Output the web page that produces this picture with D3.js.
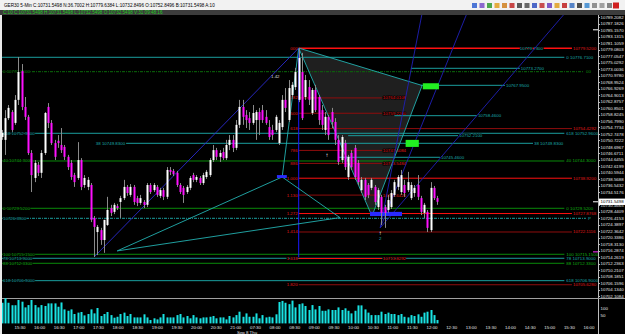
<!DOCTYPE html>
<html>
<head>
<meta charset="utf-8">
<script src="https://cdn.jsdelivr.net/npm/d3@7"></script>
<style>
  html, body { margin: 0; padding: 0; background: #000; }
  svg { display: block; font-family: "Liberation Sans", Arial, sans-serif; }
</style>
</head>
<body>
<script>
// GER30 5-Min, 133 bars (open / high / low / close)
const barOpen = [
  10751.8, 10750.9, 10757.7, 10759.6, 10756.2, 10763.4, 10772.4, 10761.2, 10758.1, 10746.8,
  10739.0, 10743.1, 10740.6, 10746.8, 10761.2, 10756.2, 10749.9, 10750.6, 10749.3, 10748.7,
  10745.6, 10743.7, 10739.9, 10739.0, 10744.6, 10736.8, 10736.2, 10736.8, 10726.5, 10722.1,
  10722.7, 10719.6, 10724.3, 10729.6, 10728.4, 10730.2, 10731.5, 10732.7, 10736.2, 10733.7,
  10736.2, 10732.7, 10731.2, 10731.5, 10730.6, 10736.8, 10735.2, 10736.2, 10733.4, 10735.2,
  10733.1, 10741.5, 10741.2, 10740.6, 10736.8, 10735.9, 10734.6, 10735.9, 10739.9, 10738.4,
  10739.0, 10737.4, 10739.3, 10739.9, 10744.6, 10747.7, 10745.6, 10747.1, 10745.2, 10749.3,
  10750.9, 10748.4, 10755.6, 10761.2, 10758.7, 10757.7, 10756.2, 10757.1, 10759.6, 10760.2,
  10758.1, 10754.9, 10754.0, 10754.0, 10749.9, 10754.9, 10763.4, 10757.1, 10764.9, 10767.4,
  10763.4, 10772.1, 10764.3, 10767.4, 10759.3, 10766.5, 10764.3, 10760.2, 10754.0, 10758.1,
  10759.6, 10756.5, 10750.9, 10744.6, 10749.9, 10739.3, 10746.8, 10748.4, 10743.7, 10735.2,
  10738.4, 10736.8, 10735.9, 10736.2, 10729.9, 10733.1, 10729.9, 10729.0, 10729.9, 10733.7,
  10736.2, 10734.6, 10736.8, 10735.2, 10732.7, 10734.3, 10736.8, 10732.7, 10728.1, 10728.4,
  10722.7, 10735.9, 10732.7
];
const barHigh = [
  10754.0, 10760.2, 10761.8, 10760.2, 10764.9, 10776.8, 10774.6, 10764.3, 10758.7, 10747.7,
  10744.6, 10744.0, 10747.7, 10759.6, 10762.4, 10757.1, 10750.9, 10752.4, 10754.6, 10749.3,
  10746.2, 10744.6, 10740.6, 10750.2, 10745.2, 10739.9, 10739.3, 10737.4, 10727.1, 10724.3,
  10723.4, 10725.9, 10733.1, 10730.6, 10731.2, 10730.9, 10733.4, 10738.4, 10736.8, 10737.1,
  10736.8, 10733.4, 10733.7, 10732.1, 10737.4, 10737.4, 10737.4, 10736.8, 10735.9, 10735.9,
  10742.4, 10742.4, 10741.8, 10741.2, 10737.4, 10736.5, 10736.8, 10739.6, 10740.6, 10739.9,
  10739.6, 10740.6, 10741.5, 10745.2, 10749.3, 10748.4, 10747.7, 10748.4, 10750.9, 10752.4,
  10752.4, 10757.1, 10763.4, 10763.4, 10760.2, 10759.6, 10761.8, 10760.2, 10760.9, 10761.8,
  10760.2, 10757.1, 10755.6, 10758.7, 10757.1, 10764.9, 10767.1, 10769.6, 10769.0, 10773.4,
  10779.6, 10778.1, 10771.2, 10769.6, 10767.1, 10768.1, 10764.9, 10761.8, 10759.6, 10758.7,
  10760.9, 10757.7, 10752.4, 10752.4, 10750.9, 10746.2, 10747.7, 10749.3, 10744.6, 10739.3,
  10739.0, 10737.4, 10739.0, 10736.8, 10735.9, 10733.7, 10730.6, 10733.7, 10735.2, 10738.4,
  10739.9, 10741.5, 10738.4, 10740.9, 10737.7, 10736.8, 10739.9, 10733.4, 10731.2, 10729.0,
  10737.7, 10736.5, 10733.4
];
const barLow = [
  10750.9, 10746.2, 10757.1, 10753.4, 10755.6, 10761.8, 10760.2, 10757.1, 10746.2, 10734.6,
  10737.7, 10739.6, 10739.0, 10746.2, 10754.6, 10749.3, 10744.6, 10748.4, 10746.8, 10744.6,
  10741.5, 10738.4, 10736.2, 10738.4, 10735.2, 10735.9, 10735.2, 10725.2, 10714.3, 10714.9,
  10718.1, 10715.6, 10724.0, 10727.1, 10727.7, 10729.0, 10726.5, 10732.1, 10733.4, 10733.1,
  10730.6, 10730.2, 10730.6, 10729.6, 10729.9, 10734.0, 10734.6, 10733.1, 10732.7, 10732.1,
  10732.4, 10739.9, 10739.6, 10736.2, 10734.0, 10731.2, 10734.0, 10735.2, 10737.7, 10737.7,
  10736.8, 10736.8, 10738.7, 10739.3, 10744.0, 10744.6, 10744.0, 10744.6, 10744.6, 10747.7,
  10747.1, 10747.7, 10754.6, 10755.6, 10754.6, 10754.0, 10755.6, 10750.9, 10752.4, 10756.2,
  10755.6, 10750.9, 10750.9, 10753.4, 10749.3, 10754.0, 10759.6, 10756.5, 10764.3, 10766.5,
  10762.7, 10757.1, 10763.4, 10761.8, 10758.7, 10759.6, 10755.6, 10754.0, 10752.4, 10750.9,
  10754.6, 10749.3, 10743.1, 10743.7, 10741.5, 10738.4, 10741.5, 10738.4, 10736.8, 10734.3,
  10732.1, 10732.7, 10735.2, 10730.6, 10729.0, 10724.3, 10723.4, 10728.1, 10729.3, 10733.1,
  10735.2, 10733.7, 10733.1, 10734.6, 10732.1, 10733.1, 10732.1, 10727.4, 10726.5, 10722.1,
  10722.1, 10732.1, 10730.6
];
const barClose = [
  10753.1, 10757.7, 10760.9, 10754.0, 10763.4, 10772.1, 10761.2, 10758.1, 10746.8, 10739.9,
  10743.7, 10740.6, 10746.8, 10759.3, 10756.2, 10749.9, 10745.6, 10749.9, 10747.7, 10745.6,
  10742.4, 10739.3, 10737.7, 10744.6, 10736.2, 10739.0, 10738.4, 10725.9, 10723.7, 10723.7,
  10719.6, 10725.9, 10729.0, 10728.1, 10730.6, 10729.6, 10732.7, 10736.2, 10734.3, 10736.2,
  10731.5, 10731.2, 10732.7, 10730.6, 10736.8, 10734.6, 10736.8, 10733.7, 10735.2, 10733.1,
  10741.5, 10740.9, 10740.2, 10736.8, 10734.6, 10733.7, 10736.2, 10739.0, 10738.4, 10739.3,
  10737.4, 10739.9, 10740.9, 10744.6, 10747.7, 10745.6, 10746.8, 10745.2, 10749.3, 10750.9,
  10748.4, 10755.6, 10761.2, 10758.1, 10757.1, 10756.2, 10759.3, 10759.6, 10757.1, 10757.1,
  10756.2, 10751.8, 10752.4, 10758.1, 10756.2, 10763.4, 10760.9, 10767.1, 10768.1, 10772.1,
  10776.5, 10757.7, 10769.6, 10763.4, 10766.5, 10760.2, 10757.1, 10755.6, 10758.1, 10752.4,
  10756.5, 10750.9, 10744.0, 10751.8, 10742.4, 10745.6, 10742.4, 10739.3, 10737.7, 10738.4,
  10733.1, 10733.7, 10738.4, 10731.5, 10735.2, 10728.1, 10728.1, 10732.1, 10734.3, 10737.7,
  10739.3, 10739.9, 10734.3, 10737.7, 10736.8, 10735.9, 10733.1, 10728.4, 10730.6, 10723.4,
  10735.9, 10732.7, 10731.5498
];
const barVolume = [
  134, 163, 134, 118, 118, 152, 141, 104, 119, 152, 119, 104, 119, 113, 130, 130, 130, 108, 136, 91,
  82, 91, 61, 70, 74, 52, 61, 91, 65, 100, 48, 61, 74, 54, 37, 43, 61, 70, 48, 61,
  39, 39, 39, 59, 39, 22, 33, 26, 39, 61, 39, 39, 39, 54, 61, 39, 48, 33, 54, 39,
  33, 39, 39, 43, 48, 33, 39, 39, 26, 48, 39, 54, 76, 43, 65, 43, 43, 65, 33, 54,
  39, 43, 39, 59, 139, 146, 134, 125, 148, 104, 125, 130, 113, 87, 119, 91, 113, 82, 82, 91,
  87, 87, 104, 87, 98, 82, 65, 82, 117, 117, 91, 70, 54, 54, 54, 76, 61, 70, 61, 61,
  54, 61, 43, 39, 54, 48, 59, 43, 70, 76, 87, 54, 22
];

// Axis labels
const priceTicks = [
  10789.2082, 10787.1826, 10785.1570, 10783.1315, 10781.1059, 10779.0803, 10777.0547, 10775.0292,
  10773.0036, 10770.9780, 10768.9524, 10766.9269, 10764.9013, 10762.8757, 10760.8501, 10758.8245,
  10756.7990, 10754.7734, 10752.7478, 10750.7222, 10748.6967, 10746.6711, 10744.6455, 10742.6199,
  10740.5944, 10738.5688, 10736.5432, 10734.5176, 10730.4665, 10728.4409, 10726.4153,
  10724.3897, 10722.3642, 10720.3386, 10718.3130, 10716.2874, 10714.2619, 10712.2363, 10710.2107,
  10708.1851, 10706.1596, 10704.1340, 10702.1084
];
const timeLabels = [
  '15:30', '16:00', '16:30', '17:00', '17:30', '18:00', '18:30', '19:00', '19:30', '20:00',
  '20:30', '21:00', '07:30', '08:00', '08:30', '09:00', '09:30', '10:00', '10:30', '11:00',
  '11:30', '12:00', '12:30', '13:00', '13:30', '14:00', '14:30', '15:00', '15:30', '16:00'
];
const volumeTicks = [100, 50];
const lastPrice = 10731.5498;

// Horizontal levels across the whole chart
const cyanLevels = [10776.71, 10752.96, 10713.90, 10706.90];
const cyanTags = ['0', '618', '78', '618'];
const greenLevels = [10744.30, 10729.52, 10715.15, 10712.33];
const greenTags = ['40', '0', '100', '88'];
const dottedGreenLevel = 10772.21;
const pivotLevel = 10726.39;

// Fibonacci set drawn from the session high
const fibHigh = 10779.52;
const fibLow = 10738.92;
const fibStartBar = 90;
const fibRatios = [0, 0.382, 0.5, 0.618, 0.786, 0.886, 1, 1.13, 1.272, 1.414, 1.618, 1.82];
const fibTags = ['000', '382', '500', '618', '786', '886', '1.000', '1.130', '1.272', '1.414', '1.618', '1.820'];
const fibLong = [true, false, false, true, false, false, true, false, true, true, false, true];

// Short cyan target lines: [start bar, end bar, price]
const targetLines = [
  [124, 157, 10773.27],
  [127, 152.5, 10767.95],
  [119, 144, 10758.46],
  [105, 138.3, 10752.21],
  [102, 132.8, 10745.46]
];
const longTarget = [37.7, 161, 10749.83];

// Pattern points [bar, price]
const ptX = [28, 10714.3];
const ptX2 = [35, 10716.2];
const ptA = [90, 10779.6];
const ptB = [85, 10739.3];
const ptC = [114.7, 10723.4];
const ptD = [127.4, 10767.9];
const ptE = [102.5, 10726.6];
const ptPrz = [112.2, 10727.1];
const fanTargets = [[127.4, 10790.5], [141, 10790.5], [170.7, 10790.5]];

// Boxes [bar0, bar1, price0, price1]
const greenBoxes = [[127.6, 132.5, 10768.6, 10766.7], [122.4, 126.4, 10750.9, 10748.7]];
const blueBoxes = [[111.6, 121.3, 10728.4, 10727.1], [83.4, 86.4, 10739.9, 10739.0]];

const W = 625, H = 334;
const plotLeft = 2, plotRight = 598, plotTop = 15, plotBottom = 298;
const levelEndBar = 170.5;
const fibEndBar = 172.8;
const fibShortEndBar = 115.2;

const x = d3.scaleLinear().domain([0, barOpen.length - 1]).range([1.7, 437.3]);
const y = d3.scaleLinear().domain([10702.1084, 10789.2082]).range([296, 17.3]);
const yv = d3.scaleLinear().domain([0, 100]).range([323.4, 308]);
const xt = d3.scaleLinear().domain([0, timeLabels.length - 1]).range([20, 589]);

const fmt = d3.format('.4f');
const pt = p => [x(p[0]), y(p[1])];

const svg = d3.select('body').append('svg')
  .attr('width', W)
  .attr('height', H)
  .style('font-size', '4.4px');

svg.append('rect').attr('width', W).attr('height', H).attr('fill', '#000');

svg.append('clipPath').attr('id', 'plotClip')
  .append('rect')
  .attr('x', plotLeft).attr('y', plotTop)
  .attr('width', plotRight - plotLeft).attr('height', plotBottom - plotTop);

const plot = svg.append('g').attr('clip-path', 'url(#plotClip)');

// Helper for labels that hide the line behind them
const label = (g, tx, ty, text, color, anchor) => g.append('text')
  .attr('x', tx).attr('y', ty + 1.5)
  .attr('text-anchor', anchor || 'start')
  .attr('fill', color)
  .attr('stroke', '#000').attr('stroke-width', 1.1)
  .style('paint-order', 'stroke')
  .text(text);

// Grey harmonic triangle
plot.append('path')
  .attr('d', d3.line()([pt(ptA), pt(ptD), pt(ptPrz)]) + 'Z')
  .attr('fill', '#1f1f1f');

// Full-width levels
cyanLevels.forEach((p, i) => {
  plot.append('line')
    .attr('x1', plotLeft).attr('x2', x(levelEndBar))
    .attr('y1', y(p)).attr('y2', y(p))
    .attr('stroke', '#1a9e9e').attr('stroke-width', 1);
  if (i > 0) label(plot, 3, y(p), cyanTags[i] + ' ' + fmt(p), '#1aaaaa');
  label(plot, x(levelEndBar) + 2, y(p), cyanTags[i] + ' ' + fmt(p), '#1aaaaa');
});
greenLevels.forEach((p, i) => {
  plot.append('line')
    .attr('x1', plotLeft).attr('x2', x(levelEndBar))
    .attr('y1', y(p)).attr('y2', y(p))
    .attr('stroke', '#0a8a0a').attr('stroke-width', 1);
  label(plot, 3, y(p), greenTags[i] + ' ' + fmt(p), '#10b010');
  label(plot, x(levelEndBar) + 2, y(p), greenTags[i] + ' ' + fmt(p), '#10b010');
});
plot.append('line')
  .attr('x1', plotLeft).attr('x2', x(fibEndBar) + 12)
  .attr('y1', y(dottedGreenLevel)).attr('y2', y(dottedGreenLevel))
  .attr('stroke', '#0b6b0b').attr('stroke-dasharray', '3,1,1,1');
label(plot, 3, y(dottedGreenLevel), '0 ' + fmt(dottedGreenLevel), '#0c8c0c');
label(plot, x(fibEndBar) + 14, y(dottedGreenLevel), '00', '#0c8c0c');
plot.append('line')
  .attr('x1', plotLeft).attr('x2', x(fibEndBar) + 14)
  .attr('y1', y(pivotLevel)).attr('y2', y(pivotLevel))
  .attr('stroke', '#1a9e9e').attr('stroke-dasharray', '3,1,1,1');
label(plot, 3, y(pivotLevel), fmt(pivotLevel), '#1aaaaa');
label(plot, x(fibEndBar) + 16, y(pivotLevel), 'P', '#1aaaaa');

// Fibonacci levels
const brightFib = new Set([0, 1, 1.272, 1.618]);
fibRatios.forEach((r, i) => {
  const p = fibHigh - r * (fibHigh - fibLow);
  const end = fibLong[i] ? fibEndBar : fibShortEndBar;
  const col = brightFib.has(r) ? '#ff1010' : '#8e0d0d';
  plot.append('line')
    .attr('x1', x(fibStartBar)).attr('x2', x(end))
    .attr('y1', y(p)).attr('y2', y(p))
    .attr('stroke', col).attr('stroke-width', r === 0 ? 1.4 : 1);
  label(plot, x(fibStartBar) - 1, y(p), fibTags[i], '#e01818', 'end');
  label(plot, x(end) + 1, y(p), fmt(p), '#e01818');
});
label(plot, x(157), y(fibHigh), fmt(fibHigh + 0.21), '#1aaaaa');

// Short cyan target lines
targetLines.forEach(d => {
  plot.append('line')
    .attr('x1', x(d[0])).attr('x2', x(d[1]))
    .attr('y1', y(d[2])).attr('y2', y(d[2]))
    .attr('stroke', '#1a9e9e');
  label(plot, x(d[1]) + 1, y(d[2]), fmt(d[2]), '#1aaaaa');
});
plot.append('line')
  .attr('x1', x(longTarget[0])).attr('x2', x(longTarget[1]))
  .attr('y1', y(longTarget[2])).attr('y2', y(longTarget[2]))
  .attr('stroke', '#1a9e9e');
label(plot, x(longTarget[0]) - 1, y(longTarget[2]), '38 ' + fmt(longTarget[2]), '#1aaaaa', 'end');
label(plot, x(longTarget[1]) + 1, y(longTarget[2]), '38 ' + fmt(longTarget[2]), '#1aaaaa');

// Blue vertical marker at the high
plot.append('line')
  .attr('x1', x(ptA[0])).attr('x2', x(ptA[0]))
  .attr('y1', y(ptA[1])).attr('y2', y(ptX[1]))
  .attr('stroke', '#1a1aff').attr('stroke-width', 1);

// Pattern lines
const cyanSegs = [[ptX2, ptB], [ptB, ptA], [ptX2, ptE], [ptA, ptPrz], [ptA, ptD], [ptD, ptPrz], [ptB, ptE]];
cyanSegs.forEach(s => {
  plot.append('line')
    .attr('x1', x(s[0][0])).attr('y1', y(s[0][1]))
    .attr('x2', x(s[1][0])).attr('y2', y(s[1][1]))
    .attr('stroke', '#22b0b0').attr('stroke-width', 0.9);
});
plot.append('line')
  .attr('x1', x(ptX[0])).attr('y1', y(ptX[1]))
  .attr('x2', x(ptA[0])).attr('y2', y(ptA[1]))
  .attr('stroke', '#2a2ad0').attr('stroke-width', 0.9);
fanTargets.forEach(t => {
  plot.append('line')
    .attr('x1', x(ptC[0])).attr('y1', y(ptC[1]))
    .attr('x2', x(t[0])).attr('y2', y(t[1]))
    .attr('stroke', '#2020b8').attr('stroke-width', 0.9);
});

// Boxes
greenBoxes.forEach(b => {
  plot.append('rect')
    .attr('x', x(b[0])).attr('y', y(b[2]))
    .attr('width', x(b[1]) - x(b[0])).attr('height', y(b[3]) - y(b[2]))
    .attr('fill', '#22ee22');
});
blueBoxes.forEach(b => {
  plot.append('rect')
    .attr('x', x(b[0])).attr('y', y(b[2]))
    .attr('width', x(b[1]) - x(b[0])).attr('height', y(b[3]) - y(b[2]))
    .attr('fill', '#2a2aff');
});

// Candles
const bars = d3.range(barOpen.length);
plot.selectAll('line.wick').data(bars).join('line')
  .attr('class', 'wick')
  .attr('x1', i => Math.round(x(i)) + 0.5).attr('x2', i => Math.round(x(i)) + 0.5)
  .attr('y1', i => y(barHigh[i])).attr('y2', i => y(barLow[i]))
  .attr('stroke', '#8a8a8a').attr('stroke-width', 1);
plot.selectAll('rect.body').data(bars).join('rect')
  .attr('class', 'body')
  .attr('x', i => Math.round(x(i)) - 0.5)
  .attr('width', 2)
  .attr('y', i => y(Math.max(barOpen[i], barClose[i])))
  .attr('height', i => Math.max(1, Math.abs(y(barOpen[i]) - y(barClose[i]))))
  .attr('fill', i => barClose[i] >= barOpen[i] ? '#ffffff' : '#ff10ff');

// Markers
plot.append('text').attr('x', x(ptC[0])).attr('y', y(ptC[1]) + 7)
  .attr('text-anchor', 'middle').attr('fill', '#fff').style('font-size', '6px').text('↑');
plot.append('text').attr('x', x(ptC[0])).attr('y', y(ptC[1]) + 12)
  .attr('text-anchor', 'middle').attr('fill', '#22b0b0').text('2');
plot.append('text').attr('x', x(98.6)).attr('y', y(10745.5))
  .attr('text-anchor', 'middle').attr('fill', '#fff').style('font-size', '6px').text('↑');
plot.append('text').attr('x', 271).attr('y', 78).attr('fill', '#ddd').text('1.42');

// Price axis
svg.append('line').attr('x1', plotRight + 0.5).attr('x2', plotRight + 0.5)
  .attr('y1', plotTop).attr('y2', 334).attr('stroke', '#bdbdbd');
priceTicks.forEach(p => {
  svg.append('line').attr('x1', plotRight).attr('x2', plotRight + 2)
    .attr('y1', Math.round(y(p)) + 0.5).attr('y2', Math.round(y(p)) + 0.5).attr('stroke', '#bdbdbd');
  svg.append('text').attr('x', plotRight + 2.5).attr('y', y(p) + 1.6)
    .attr('fill', '#e6e6e6').text(fmt(p));
});
svg.append('rect').attr('x', plotRight + 1).attr('y', y(lastPrice) - 3.2)
  .attr('width', 26).attr('height', 6.4).attr('fill', '#fff');
svg.append('text').attr('x', plotRight + 2.5).attr('y', y(lastPrice) + 1.6)
  .attr('fill', '#000').text(fmt(lastPrice));
svg.append('line').attr('x1', plotRight - 5).attr('x2', plotRight)
  .attr('y1', y(lastPrice)).attr('y2', y(lastPrice)).attr('stroke', '#fff');
svg.append('line').attr('x1', plotRight - 5).attr('x2', plotRight)
  .attr('y1', y(10785.3)).attr('y2', y(10785.3)).attr('stroke', '#fff');
svg.append('line').attr('x1', plotRight - 5).attr('x2', plotRight)
  .attr('y1', y(10715.9)).attr('y2', y(10715.9)).attr('stroke', '#ff30ff');

// Volume panel
svg.append('line').attr('x1', plotLeft).attr('x2', W)
  .attr('y1', plotBottom + 0.5).attr('y2', plotBottom + 0.5).attr('stroke', '#a0a0a0');
svg.selectAll('rect.vol').data(bars).join('rect')
  .attr('class', 'vol')
  .attr('x', i => Math.round(x(i)) - 0.5)
  .attr('width', 2)
  .attr('y', i => yv(barVolume[i]))
  .attr('height', i => yv(0) - yv(barVolume[i]))
  .attr('fill', '#19e3e3');
volumeTicks.forEach(v => {
  svg.append('text').attr('x', plotRight + 2.5).attr('y', yv(v) + 1.6)
    .attr('fill', '#e6e6e6').text(v);
});

// Time axis
timeLabels.forEach((t, i) => {
  svg.append('text').attr('x', xt(i)).attr('y', 329)
    .attr('text-anchor', 'middle').attr('fill', '#e6e6e6').text(t);
});
svg.append('text').attr('x', 237).attr('y', 333.5).attr('fill', '#e6e6e6').text('Sep 8 Thu');

// Window frame, title and info rows
svg.append('rect').attr('x', 0).attr('y', 0).attr('width', 2).attr('height', H).attr('fill', '#e8e8e8');
svg.append('rect').attr('x', 0).attr('y', 0).attr('width', W).attr('height', 10).attr('fill', '#f2f2f2');
svg.append('rect').attr('x', 0).attr('y', 10).attr('width', W).attr('height', 5).attr('fill', '#3c3c3c');
svg.append('text').attr('x', 4).attr('y', 6.8).attr('fill', '#000').style('font-size', '4.6px')
  .text('GER30 5-Min  C:10731.5498  N:36.7002  H:10779.6384  L:10732.8496  O:10752.8496  B:10731.5498  A:10');
svg.append('text').attr('x', 3).attr('y', 14).attr('fill', '#22cc22').style('font-size', '4.6px')
  .text('C:10  C:10731.5498  H:10731.5498  L:10732.5498  O:10732.5498  V:31  09:48:16');

const iconColors = ['#3060d0', '#7a50c8', '#2f9a2f', '#e0a020', '#d08020', '#c02828', '#404040', '#505050',
  '#3050c0', '#c03030', '#6a40c0', '#e0a020', '#c02020', '#3a70c0', '#303030', '#3c8ad0', '#808080', '#909090', '#707070'];
iconColors.forEach((c, i) => {
  svg.append('rect').attr('x', 472 + i * 7.5).attr('y', 3).attr('width', 5).attr('height', 5)
    .attr('fill', c).attr('opacity', 0.85);
});
svg.append('rect').attr('x', 613).attr('y', 2.5).attr('width', 6).attr('height', 6).attr('fill', '#d02020');
</script>
</body>
</html>
